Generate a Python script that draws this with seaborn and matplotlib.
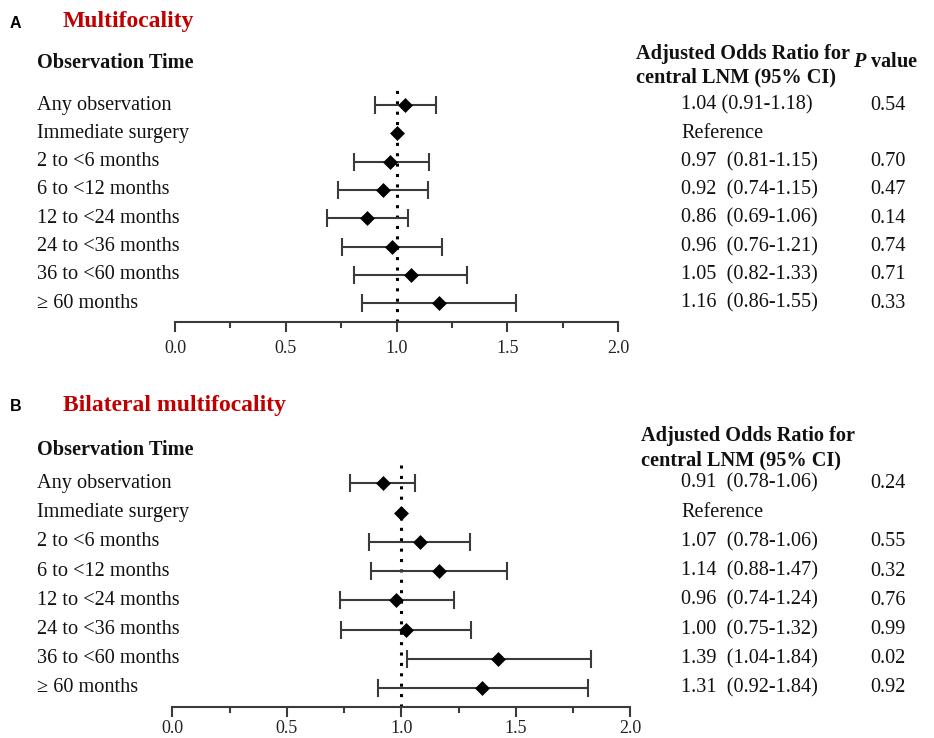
import matplotlib
matplotlib.use("Agg")
import matplotlib.pyplot as plt
import matplotlib.transforms as mtransforms
from matplotlib.ticker import MultipleLocator
import seaborn as sns
import pandas as pd

# ---------------- data ----------------
rows = ["Any observation", "Immediate surgery", "2 to <6 months", "6 to <12 months",
        "12 to <24 months", "24 to <36 months", "36 to <60 months", "\u2265 60 months"]

a_or = [1.04, 1.00, 0.97, 0.94, 0.865, 0.98, 1.065, 1.19]
a_lo = [0.905, None, 0.81, 0.735, 0.685, 0.755, 0.81, 0.845]
a_hi = [1.18, None, 1.145, 1.14, 1.05, 1.205, 1.32, 1.54]
a_txt = ["1.04 (0.91-1.18)", "Reference", "0.97  (0.81-1.15)", "0.92  (0.74-1.15)",
         "0.86  (0.69-1.06)", "0.96  (0.76-1.21)", "1.05  (0.82-1.33)", "1.16  (0.86-1.55)"]
a_p = ["0.54", "", "0.70", "0.47", "0.14", "0.74", "0.71", "0.33"]

b_or = [0.92, 1.00, 1.08, 1.163, 0.978, 1.022, 1.424, 1.354]
b_lo = [0.776, None, 0.858, 0.866, 0.731, 0.737, 1.024, 0.897]
b_hi = [1.061, None, 1.30, 1.462, 1.229, 1.306, 1.827, 1.814]
b_txt = ["0.91  (0.78-1.06)", "Reference", "1.07  (0.78-1.06)", "1.14  (0.88-1.47)",
         "0.96  (0.74-1.24)", "1.00  (0.75-1.32)", "1.39  (1.04-1.84)", "1.31  (0.92-1.84)"]
b_p = ["0.24", "", "0.55", "0.32", "0.76", "0.99", "0.02", "0.92"]

x_ticks = [0.0, 0.5, 1.0, 1.5, 2.0]
tick_labels = ["0.0", "0.5", "1.0", "1.5", "2.0"]

# ---------------- style ----------------
sns.set_theme(style="white")
plt.rcParams["font.family"] = ["Liberation Serif", "DejaVu Serif"]
plt.rcParams["mathtext.fontset"] = "custom"
plt.rcParams["mathtext.bfit"] = "Liberation Serif:italic:bold"

W, H = 934, 738
fig = plt.figure(figsize=(W / 100, H / 100), dpi=100)
fig.patch.set_facecolor("white")
TXT = "#111111"
FS = 14.6


def fx(px):
    return px / W


def fy(py):
    return 1 - py / H


def panel(box, ors, los, his, texts, pvals, letter, title, title_y, obs_y, hdr_y1, hdr_y2,
          hdr_x, show_p, letter_y, ylim, tick_pad):
    left, right, top, bottom = box
    ax = fig.add_axes([fx(left), fy(bottom), fx(right - left), (bottom - top) / H])
    df = pd.DataFrame({"row": list(range(len(rows))), "label": rows, "or": ors,
                       "lo": los, "hi": his})
    ci = df.dropna()
    ax.errorbar(ci["or"], ci["row"], xerr=[ci["or"] - ci["lo"], ci["hi"] - ci["or"]],
                fmt="none", ecolor="#3a3a3a", elinewidth=1.5, capsize=6.5, capthick=1.5,
                zorder=2)
    ax.axvline(1.0, color="black", ls=(0, (1, 2.4)), lw=2.2, zorder=1)
    sns.scatterplot(data=df, x="or", y="row", marker="D", s=50, color="black",
                    edgecolor="black", linewidth=0.5, ax=ax, zorder=3, legend=False)
    ax.set_xlim(0, 2)
    ax.set_ylim(*ylim)
    ax.set_xlabel("")
    ax.set_ylabel("")
    ax.set_yticks([])
    for s in ["top", "right", "left"]:
        ax.spines[s].set_visible(False)
    ax.spines["bottom"].set_color("#3a3a3a")
    ax.spines["bottom"].set_linewidth(1.5)
    ax.set_xticks(x_ticks)
    ax.set_xticklabels(tick_labels)
    ax.xaxis.set_minor_locator(MultipleLocator(0.25))
    ax.tick_params(axis="x", which="major", direction="out", length=7, width=1.5,
                   color="#3a3a3a", labelsize=13, pad=tick_pad, labelcolor="#222222",
                   bottom=True)
    ax.tick_params(axis="x", which="minor", direction="out", length=4, width=1.5,
                   color="#3a3a3a", bottom=True)
    ax.set_facecolor("none")

    tr = mtransforms.blended_transform_factory(fig.transFigure, ax.transData)
    for i, r in enumerate(rows):
        fig.text(fx(37), i, r, transform=tr, fontsize=FS, va="center", ha="left", color=TXT)
        fig.text(fx(681), i, texts[i], transform=tr, fontsize=FS, va="center",
                 ha="left", color=TXT)
        if pvals[i]:
            fig.text(fx(870), i, pvals[i], transform=tr, fontsize=FS, va="center",
                     ha="left", color=TXT)

    fig.text(fx(10), fy(letter_y), letter, fontsize=11.5, fontweight="bold",
             family=["Liberation Sans", "DejaVu Sans"], va="center", ha="left",
             color="black")
    fig.text(fx(63), fy(title_y), title, fontsize=17, fontweight="bold", va="center",
             ha="left", color="#c00000")
    fig.text(fx(37), fy(obs_y), "Observation Time", fontsize=FS,
             fontweight="bold", va="center", ha="left", color=TXT)
    fig.text(fx(hdr_x), fy(hdr_y1), "Adjusted Odds Ratio for", fontsize=FS,
             fontweight="bold", va="center", ha="left", color=TXT)
    fig.text(fx(hdr_x), fy(hdr_y2), "central LNM (95% CI)", fontsize=FS,
             fontweight="bold", va="center", ha="left", color=TXT)
    if show_p:
        fig.text(fx(853), fy(62), "$\\mathbfit{P}$ value",
                 fontsize=FS, fontweight="bold", va="center", ha="left", color=TXT)
    return ax


panel((175, 618, 85, 322), a_or, a_lo, a_hi, a_txt, a_p, "A", "Multifocality",
      21, 63, 54, 77, 636, True, 24, (7.66, -0.706), 6)
panel((172.3, 630.3, 463, 707), b_or, b_lo, b_hi, b_txt, b_p, "B",
      "Bilateral multifocality", 405, 450, 436, 460, 641, False, 407, (7.65, -0.695), 2.5)

fig.savefig("out.png", dpi=100, facecolor="white")
